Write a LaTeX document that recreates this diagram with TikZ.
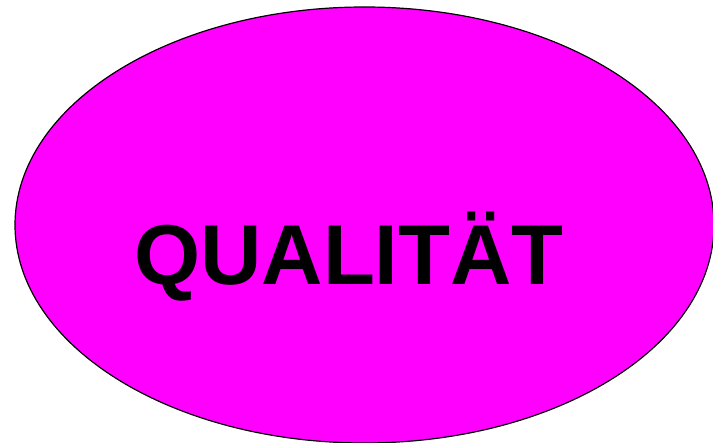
\documentclass[tikz,border=0pt]{standalone}
\usepackage{fontspec}
\setmainfont{Liberation Sans}
\definecolor{mag}{RGB}{255,0,255}
\tikzset{oval/.style={fill=mag,draw=black,line width=1.2bp},
  title/.style={inner sep=0pt,anchor=base,font=\fontsize{85bp}{100bp}\selectfont\bfseries}}
\begin{document}
\begin{tikzpicture}[x=1bp,y=-1bp]
\useasboundingbox (0,0) rectangle (713,443);
\clip (0,0) rectangle (713,443);
\fill[white] (0,0) rectangle (713,443);
\draw[oval] (364.5,225) ellipse [x radius=349.5, y radius=218];
\node[title] (q) at (349,285) {QUALITÄT};
\end{tikzpicture}
\end{document}
